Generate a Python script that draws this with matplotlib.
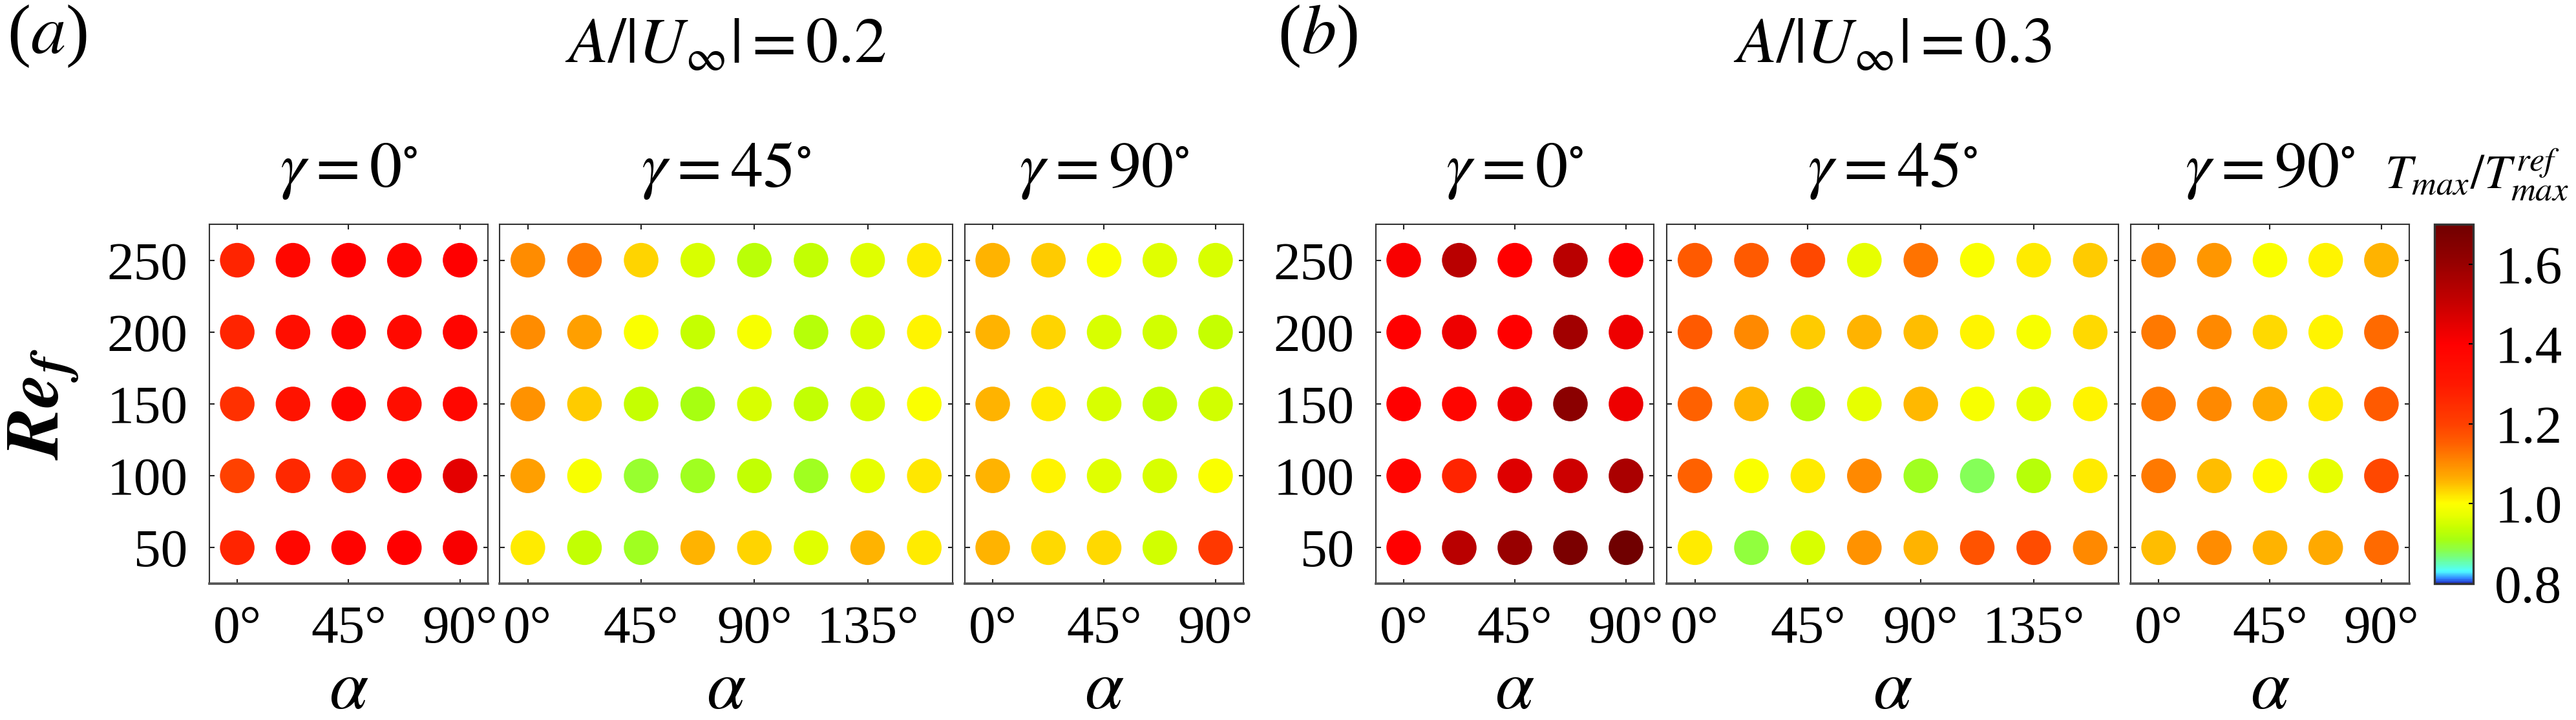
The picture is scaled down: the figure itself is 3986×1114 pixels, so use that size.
import numpy as np
import matplotlib
matplotlib.use('Agg')
import matplotlib.pyplot as plt
from matplotlib.colors import LinearSegmentedColormap

plt.rcParams['font.family'] = ['Liberation Serif', 'DejaVu Serif']
plt.rcParams['mathtext.fontset'] = 'stix'

# Re_f rows (bottom to top) and alpha columns
re_vals = [50, 100, 150, 200, 250]
alpha_5 = [0, 22.5, 45, 67.5, 90]
alpha_8 = [0, 22.5, 45, 67.5, 90, 112.5, 135, 157.5]

# T_max / T_max^ref, A/|U| = 0.2 ; rows Re = 50..250
a_g0 = [[1.27, 1.37, 1.39, 1.40, 1.41],
        [1.20, 1.26, 1.27, 1.37, 1.45],
        [1.24, 1.32, 1.38, 1.34, 1.37],
        [1.27, 1.34, 1.38, 1.36, 1.38],
        [1.27, 1.37, 1.40, 1.38, 1.40]]
a_g45 = [[1.015, 0.935, 0.905, 1.06, 1.035, 0.965, 1.06, 1.015],
         [1.08, 0.99, 0.895, 0.905, 0.935, 0.905, 0.97, 1.02],
         [1.095, 1.04, 0.94, 0.91, 0.955, 0.935, 0.955, 0.995],
         [1.10, 1.08, 0.995, 0.94, 0.99, 0.925, 0.955, 1.01],
         [1.10, 1.12, 1.035, 0.955, 0.93, 0.935, 0.965, 1.015]]
a_g90 = [[1.06, 1.03, 1.03, 0.95, 1.22],
         [1.06, 1.01, 0.965, 0.955, 0.995],
         [1.06, 1.015, 0.955, 0.94, 0.95],
         [1.06, 1.035, 0.955, 0.95, 0.94],
         [1.06, 1.04, 0.995, 0.965, 0.955]]

# A/|U| = 0.3
b_g0 = [[1.40, 1.53, 1.60, 1.67, 1.70],
        [1.38, 1.27, 1.46, 1.49, 1.56],
        [1.40, 1.38, 1.43, 1.63, 1.43],
        [1.40, 1.43, 1.40, 1.58, 1.43],
        [1.41, 1.53, 1.40, 1.53, 1.40]]
b_g45 = [[1.015, 0.89, 0.955, 1.095, 1.06, 1.17, 1.18, 1.105],
         [1.15, 0.995, 1.015, 1.105, 0.905, 0.88, 0.925, 1.015],
         [1.15, 1.06, 0.925, 0.97, 1.055, 0.99, 0.97, 1.01],
         [1.16, 1.105, 1.04, 1.06, 1.05, 1.01, 0.99, 1.03],
         [1.16, 1.16, 1.19, 0.97, 1.13, 0.995, 1.015, 1.04]]
b_g90 = [[1.05, 1.10, 1.06, 1.07, 1.14],
         [1.12, 1.05, 1.005, 0.97, 1.19],
         [1.12, 1.105, 1.07, 1.015, 1.16],
         [1.12, 1.105, 1.03, 1.01, 1.14],
         [1.105, 1.09, 0.995, 1.01, 1.06]]

vmin, vmax = 0.8, 1.7
nodes = [(0.80, '#2030c0'), (0.81, '#3080ff'), (0.83, '#50ffff'), (0.86, '#70ff90'),
         (0.88, '#88ff50'), (0.91, '#a8ff10'), (0.94, '#c8ff00'), (0.97, '#e8ff00'),
         (1.00, '#ffff00'), (1.03, '#ffd800'), (1.06, '#ffb000'), (1.10, '#ff8c00'),
         (1.15, '#ff6000'), (1.20, '#ff4000'), (1.30, '#ff1800'), (1.40, '#ff0000'),
         (1.50, '#c80000'), (1.60, '#980000'), (1.70, '#700000')]
cmap = LinearSegmentedColormap.from_list(
    'tmax', [((v - vmin) / (vmax - vmin), c) for v, c in nodes])

W, H = 3987, 1114
fig = plt.figure(figsize=(W / 300, H / 300), dpi=300)

def px(x0, x1):
    return x0 / W, (x1 - x0) / W

bottom = 1 - 903 / H
height = (903 - 347) / H

panels = [
    (324, 755, a_g0, alpha_5, r'$\gamma = 0^{\circ}$', True),
    (773, 1474, a_g45, alpha_8, r'$\gamma = 45^{\circ}$', False),
    (1493, 1924, a_g90, alpha_5, r'$\gamma = 90^{\circ}$', False),
    (2129, 2559, b_g0, alpha_5, r'$\gamma = 0^{\circ}$', True),
    (2579, 3278, b_g45, alpha_8, r'$\gamma = 45^{\circ}$', False),
    (3297, 3728, b_g90, alpha_5, r'$\gamma = 90^{\circ}$', False),
]

sc = None
for x0, x1, vals, alphas, title, ylab in panels:
    left, width = px(x0, x1)
    ax = fig.add_axes([left, bottom, width, height])
    aa, rr = np.meshgrid(alphas, re_vals)
    sc = ax.scatter(aa.ravel(), rr.ravel(), c=np.array(vals).ravel(), cmap=cmap,
                    vmin=vmin, vmax=vmax, s=165, linewidths=0)
    ax.set_xlim(-11.25, alphas[-1] + 11.25)
    ax.set_ylim(25, 275)
    xt = [0, 45, 90] if len(alphas) == 5 else [0, 45, 90, 135]
    ax.set_xticks(xt)
    ax.set_xticklabels([f'{t}°' for t in xt], fontsize=20)
    ax.set_yticks(re_vals)
    if ylab:
        ax.set_yticklabels([str(r) for r in re_vals], fontsize=20)
    else:
        ax.set_yticklabels([])
    ax.tick_params(direction='in', length=1.8, width=0.5, top=True, right=True,
                   pad=8, colors='#222222', labelcolor='black')
    for s in ax.spines.values():
        s.set_linewidth(0.5)
        s.set_color('#333333')
    ax.spines['bottom'].set_linewidth(0.9)
    ax.spines['bottom'].set_color('#555555')
    ax.set_title(title, fontsize=24, pad=14)
    fig.text((x0 + x1) / 2 / W, 1 - 1070 / H, r'$\alpha$', fontsize=26,
             ha='center', va='center')

# group headers
fig.text(1123 / W, 1 - 97 / H, r'$A/|U_{\infty}| = 0.2$', fontsize=24, ha='center', va='baseline')
fig.text(2928 / W, 1 - 97 / H, r'$A/|U_{\infty}| = 0.3$', fontsize=24, ha='center', va='baseline')
fig.text(11 / W, 1 - 82 / H, r'($a$)', fontsize=26, ha='left', va='baseline')
fig.text(1977 / W, 1 - 82 / H, r'($b$)', fontsize=26, ha='left', va='baseline')

fig.text(68 / W, 1 - 625 / H, r'$\mathbfit{Re}_{\mathbfit{f}}$', fontsize=28, rotation=90,
         ha='center', va='center')

# colorbar
cl, cw = px(3767, 3827)
cax = fig.add_axes([cl, bottom, cw, height])
cb = fig.colorbar(sc, cax=cax, ticks=[0.8, 1.0, 1.2, 1.4, 1.6])
cb.ax.set_yticklabels(['0.8', '1.0', '1.2', '1.4', '1.6'], fontsize=20)
cb.ax.tick_params(direction='in', length=1.8, width=0.5, pad=8)
cb.outline.set_linewidth(0.8)
cb.outline.set_edgecolor('#333333')
fig.text(3975 / W, 1 - 292 / H, r'$T_{max}/T_{max}^{ref}$', fontsize=18, ha='right', va='baseline')

fig.savefig('out.png', dpi=300)
